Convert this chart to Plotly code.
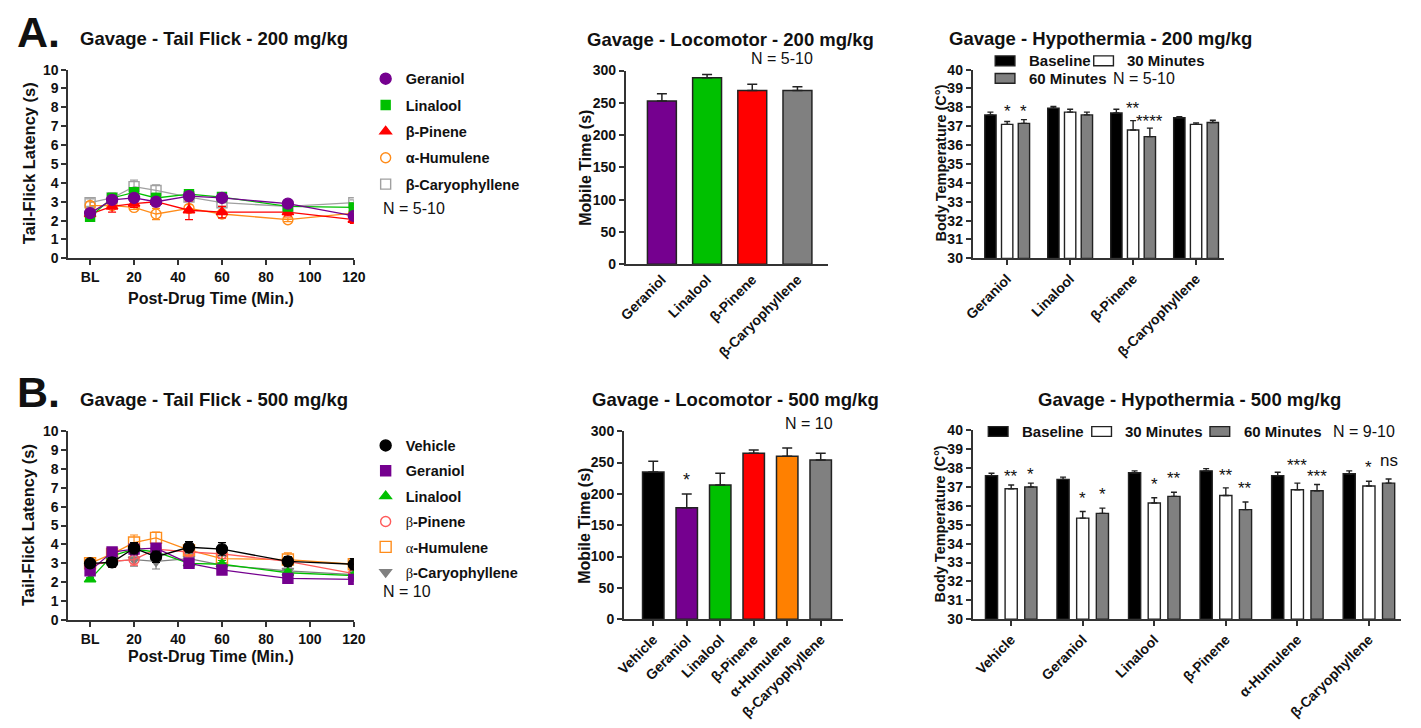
import plotly.graph_objects as go

W, H = 1421, 728
FONT = "Liberation Sans, Arial, sans-serif"
AX = "#333333"
INK = "#111111"


def px(x):
    return x / W


def py(y):
    return 1 - y / H


# ---------------- data ----------------
tf_times = [0, 10, 20, 30, 45, 60, 90, 120]
tf_tickvals = [0, 20, 40, 60, 80, 100, 120]
tf_ticktext = ["BL", "20", "40", "60", "80", "100", "120"]

# Tail flick, 200 mg/kg (mean, SEM)
tfA_geraniol = [2.4, 3.1, 3.2, 3.0, 3.3, 3.2, 2.9, 2.25]
tfA_geraniol_sem = [0.15, 0.15, 0.15, 0.15, 0.15, 0.15, 0.2, 0.15]
tfA_linalool = [2.2, 3.2, 3.5, 3.2, 3.4, 3.25, 2.75, 2.7]
tfA_linalool_sem = [0.15, 0.25, 0.2, 0.25, 0.25, 0.15, 0.2, 0.2]
tfA_pinene = [2.35, 2.75, 2.9, 3.0, 2.55, 2.45, 2.45, 2.05]
tfA_pinene_sem = [0.2, 0.3, 0.2, 0.2, 0.5, 0.3, 0.2, 0.2]
tfA_humulene = [2.8, 2.8, 2.7, 2.35, 2.65, 2.35, 2.05, 2.4]
tfA_humulene_sem = [0.2, 0.15, 0.1, 0.3, 0.2, 0.2, 0.1, 0.15]
tfA_caryophyllene = [2.95, 3.2, 3.8, 3.6, 3.25, 2.95, 2.75, 2.95]
tfA_caryophyllene_sem = [0.2, 0.2, 0.35, 0.3, 0.2, 0.2, 0.15, 0.15]

# Tail flick, 500 mg/kg (mean, SEM)
tfB_vehicle = [3.0, 3.05, 3.8, 3.35, 3.85, 3.75, 3.1, 2.95]
tfB_vehicle_sem = [0.2, 0.25, 0.3, 0.3, 0.3, 0.35, 0.25, 0.3]
tfB_geraniol = [2.6, 3.6, 3.75, 3.8, 3.0, 2.65, 2.2, 2.15]
tfB_geraniol_sem = [0.15, 0.15, 0.3, 0.2, 0.15, 0.15, 0.1, 0.1]
tfB_linalool = [2.15, 3.4, 3.75, 3.6, 3.0, 2.95, 2.5, 2.35]
tfB_linalool_sem = [0.1, 0.2, 0.2, 0.2, 0.15, 0.2, 0.15, 0.15]
tfB_pinene = [2.9, 3.1, 3.2, 3.75, 3.6, 3.5, 3.1, 2.45]
tfB_pinene_sem = [0.2, 0.3, 0.3, 0.25, 0.25, 0.25, 0.2, 0.2]
tfB_humulene = [3.0, 3.5, 4.1, 4.35, 3.7, 3.25, 3.2, 2.95]
tfB_humulene_sem = [0.2, 0.2, 0.4, 0.3, 0.25, 0.25, 0.35, 0.2]
tfB_caryophyllene = [2.9, 3.1, 3.2, 3.1, 3.25, 2.9, 2.6, 2.4]
tfB_caryophyllene_sem = [0.2, 0.3, 0.35, 0.4, 0.2, 0.25, 0.15, 0.15]

# Locomotor (mobile time, s)
locoA_names = ["Geraniol", "Linalool", "β-Pinene", "β-Caryophyllene"]
locoA_mean = [253, 289, 269, 269]
locoA_sem = [11, 5, 10, 6]
locoA_colors = ["#75008F", "#00C000", "#FF0000", "#808080"]

locoB_names = ["Vehicle", "Geraniol", "Linalool", "β-Pinene", "α-Humulene", "β-Caryophyllene"]
locoB_mean = [235, 178, 214, 265, 260, 254]
locoB_sem = [17, 22, 19, 5, 13, 11]
locoB_sig = ["", "*", "", "", "", ""]
locoB_colors = ["#000000", "#75008F", "#00C000", "#FF0000", "#FF8000", "#808080"]

# Hypothermia (body temperature, °C)
hypA_names = ["Geraniol", "Linalool", "β-Pinene", "β-Caryophyllene"]
hypA_base = [37.6, 37.95, 37.7, 37.45]
hypA_base_sem = [0.15, 0.1, 0.2, 0.05]
hypA_30 = [37.1, 37.75, 36.8, 37.1]
hypA_30_sem = [0.15, 0.15, 0.5, 0.08]
hypA_60 = [37.15, 37.6, 36.45, 37.2]
hypA_60_sem = [0.2, 0.15, 0.45, 0.12]
hypA_30_sig = ["*", "", "**", ""]
hypA_60_sig = ["*", "", "****", ""]

hypB_names = ["Vehicle", "Geraniol", "Linalool", "β-Pinene", "α-Humulene", "β-Caryophyllene"]
hypB_base = [37.6, 37.4, 37.75, 37.85, 37.6, 37.7]
hypB_base_sem = [0.12, 0.12, 0.1, 0.12, 0.18, 0.15]
hypB_30 = [36.9, 35.35, 36.15, 36.55, 36.85, 37.05]
hypB_30_sem = [0.2, 0.35, 0.28, 0.4, 0.35, 0.25]
hypB_60 = [37.0, 35.6, 36.5, 35.8, 36.8, 37.2]
hypB_60_sem = [0.2, 0.28, 0.22, 0.4, 0.33, 0.22]
hypB_30_sig = ["**", "*", "*", "**", "***", "*"]
hypB_60_sig = ["*", "*", "**", "**", "***", "ns"]

# vertical nudges (px) for the significance marks, so neighbours do not collide
hypA_30_lift = [-1, 0, 1, 0]
hypA_60_lift = [-3, 0, -5, 0]
hypB_30_lift = [-3, 2, 2, 1, 6, 2]
hypB_60_lift = [-3, 2, 2, 2, -4, 7]


# ---------------- helpers ----------------
def serif_greek(name):
    if name and name[0] in "αβ":
        return ("<span style='font-family:Liberation Serif;font-weight:normal'>"
                + name[0] + "</span>" + name[1:])
    return name


def axis(**kw):
    d = dict(showline=True, linecolor=AX, linewidth=1.6, ticks="outside",
             ticklen=5, tickwidth=1.6, tickcolor=AX, showgrid=False,
             zeroline=False, fixedrange=True,
             tickfont=dict(family=FONT, size=14, color=INK, weight="bold"))
    d.update(kw)
    return d


fig = go.Figure()
annotations = []
shapes = []


def text(x, y, s, size=14, bold=True, xanchor="left", angle=0, color=INK):
    annotations.append(dict(
        x=px(x), y=py(y), xref="paper", yref="paper", text=s, showarrow=False,
        xanchor=xanchor, yanchor="middle", textangle=angle,
        font=dict(family=FONT, size=size, color=color,
                  weight="bold" if bold else "normal")))


# ---------------- tail flick panels ----------------
def tail_flick(series, xa, ya, legend_name):
    for name, mean, sem, color, symbol, size in reversed(series):
        fig.add_trace(go.Scatter(
            x=tf_times, y=mean, mode="lines+markers", xaxis=xa, yaxis=ya,
            line=dict(color=color, width=1.3),
            marker=dict(color=color, symbol=symbol, size=size,
                        line=dict(color=color, width=1.4)),
            error_y=dict(type="data", array=sem, color=color, thickness=1.2, width=4),
            showlegend=False, hoverinfo="skip"))
    for name, mean, sem, color, symbol, size in series:
        fig.add_trace(go.Scatter(
            x=[None], y=[None], mode="markers", xaxis=xa, yaxis=ya, name=name,
            marker=dict(color=color, symbol=symbol, size=size,
                        line=dict(color=color, width=1.4)),
            legend=legend_name, legendgroup=name, showlegend=True))


tail_flick([
    ("Geraniol", tfA_geraniol, tfA_geraniol_sem, "#75008F", "circle", 11),
    ("Linalool", tfA_linalool, tfA_linalool_sem, "#00C000", "square", 9),
    ("β-Pinene", tfA_pinene, tfA_pinene_sem, "#FF0000", "triangle-up", 10),
    ("α-Humulene", tfA_humulene, tfA_humulene_sem, "#FF8C1A", "circle-open", 10),
    ("β-Caryophyllene", tfA_caryophyllene, tfA_caryophyllene_sem, "#A0A0A0", "square-open", 10),
], "x", "y", "legend")

tail_flick([
    ("Vehicle", tfB_vehicle, tfB_vehicle_sem, "#000000", "circle", 11),
    ("Geraniol", tfB_geraniol, tfB_geraniol_sem, "#75008F", "square", 10),
    ("Linalool", tfB_linalool, tfB_linalool_sem, "#00C000", "triangle-up", 10),
    (serif_greek("β-Pinene"), tfB_pinene, tfB_pinene_sem, "#FF5A5A", "circle-open", 10),
    (serif_greek("α-Humulene"), tfB_humulene, tfB_humulene_sem, "#FF8C1A", "square-open", 11),
    (serif_greek("β-Caryophyllene"), tfB_caryophyllene, tfB_caryophyllene_sem, "#808080", "triangle-down", 10),
], "x4", "y4", "legend2")


# ---------------- locomotor panels ----------------
def locomotor(names, mean, sem, colors, xa, ya):
    idx = list(range(len(names)))
    fig.add_trace(go.Bar(
        x=idx, y=mean, xaxis=xa, yaxis=ya, width=0.64,
        marker=dict(color=colors, line=dict(color="#222222", width=1.5)),
        error_y=dict(type="data", symmetric=False, array=sem,
                     arrayminus=[0] * len(sem), color="#222222", thickness=1.5, width=5),
        showlegend=False, hoverinfo="skip"))
    return idx, list(names)


locoA_idx, locoA_text = locomotor(locoA_names, locoA_mean, locoA_sem, locoA_colors, "x2", "y2")
locoB_idx, locoB_text = locomotor(locoB_names, locoB_mean, locoB_sem, locoB_colors, "x5", "y5")
for i, s in enumerate(locoB_sig):
    if s:
        annotations.append(dict(x=i, y=locoB_mean[i] + locoB_sem[i], xref="x5", yref="y5",
                                text=s, showarrow=False, yanchor="bottom", yshift=2,
                                font=dict(family=FONT, size=18, color=INK)))


# ---------------- hypothermia panels ----------------
def hypothermia(names, base, base_sem, m30, m30_sem, m60, m60_sem,
                sig30, sig60, lift30, lift60, xa, ya, step, width):
    idx = list(range(len(names)))
    groups = [
        (base, base_sem, "#000000", -step, None, None),
        (m30, m30_sem, "#FFFFFF", 0.0, sig30, lift30),
        (m60, m60_sem, "#808080", step, sig60, lift60),
    ]
    for mean, sem, color, off, sig, lift in groups:
        xs = [i + off for i in idx]
        fig.add_trace(go.Bar(
            x=xs, y=[v - 30 for v in mean], base=30, xaxis=xa, yaxis=ya, width=width,
            marker=dict(color=color, line=dict(color="#222222", width=1.4)),
            error_y=dict(type="data", symmetric=False, array=sem,
                         arrayminus=[0] * len(sem), color="#222222", thickness=1.4, width=3),
            showlegend=False, hoverinfo="skip"))
        if sig:
            for x, v, e, s, dy in zip(xs, mean, sem, sig, lift):
                if s:
                    annotations.append(dict(
                        x=x, y=v + e, xref=xa, yref=ya, text=s, showarrow=False,
                        yanchor="bottom", yshift=dy,
                        font=dict(family=FONT, size=17, color=INK)))
    return idx, list(names)


hypA_idx, hypA_text = hypothermia(hypA_names, hypA_base, hypA_base_sem, hypA_30, hypA_30_sem,
                                  hypA_60, hypA_60_sem, hypA_30_sig, hypA_60_sig,
                                  hypA_30_lift, hypA_60_lift, "x3", "y3", 0.266, 0.18)
hypB_idx, hypB_text = hypothermia(hypB_names, hypB_base, hypB_base_sem, hypB_30, hypB_30_sem,
                                  hypB_60, hypB_60_sem, hypB_30_sig, hypB_60_sig,
                                  hypB_30_lift, hypB_60_lift, "x6", "y6", 0.275, 0.17)


def legend_box(x0, y0, color, label, label_x):
    shapes.append(dict(type="rect", xref="paper", yref="paper",
                       x0=px(x0), x1=px(x0 + 20), y0=py(y0 + 5), y1=py(y0 - 5),
                       fillcolor=color, line=dict(color="#222222", width=1.4)))
    text(label_x, y0, label, size=15)


legend_box(1001, 54, "#000000", "Baseline", 1033)
legend_box(1101, 54, "#FFFFFF", "30 Minutes", 1133)
legend_box(1001, 72, "#808080", "60 Minutes", 1033)
text(1119, 72, "N = 5-10", size=16, bold=False)

legend_box(994, 433, "#000000", "Baseline", 1026)
legend_box(1099, 433, "#FFFFFF", "30 Minutes", 1131)
legend_box(1219, 433, "#808080", "60 Minutes", 1251)
text(1342, 433, "N = 9-10", size=16, bold=False)

# ---------------- titles and labels ----------------
text(6, 25, "A.", size=43)
text(6, 393, "B.", size=43)
text(70, 31, "Gavage - Tail Flick - 200 mg/kg", size=18.5)
text(70, 400, "Gavage - Tail Flick - 500 mg/kg", size=18.5)
text(732, 32, "Gavage - Locomotor - 200 mg/kg", size=18.5, xanchor="center")
text(737, 400, "Gavage - Locomotor - 500 mg/kg", size=18.5, xanchor="center")
text(1108, 31, "Gavage - Hypothermia - 200 mg/kg", size=18.5, xanchor="center")
text(1198, 400, "Gavage - Hypothermia - 500 mg/kg", size=18.5, xanchor="center")

text(785, 52, "N = 5-10", size=16, bold=False, xanchor="center")
text(812, 425, "N = 10", size=16, bold=False, xanchor="center")
text(378, 205, "N = 5-10", size=16, bold=False)
text(378, 597, "N = 10", size=16, bold=False)

text(20, 159, "Tail-Flick Latency (s)", size=16.5, xanchor="center", angle=-90)
text(20, 529, "Tail-Flick Latency (s)", size=16.5, xanchor="center", angle=-90)
text(205, 297, "Post-Drug Time (Min.)", size=16, xanchor="center")
text(205, 663, "Post-Drug Time (Min.)", size=16, xanchor="center")
text(585, 163, "Mobile Time (s)", size=16, xanchor="center", angle=-90)
text(584, 529, "Mobile Time (s)", size=16, xanchor="center", angle=-90)
text(945, 159, "Body Temperature (C°)", size=14.5, xanchor="center", angle=-90)
text(945, 528, "Body Temperature (C°)", size=14.5, xanchor="center", angle=-90)

legend_common = dict(xanchor="left", yanchor="top", bgcolor="rgba(0,0,0,0)",
                     font=dict(family=FONT, size=14.5, color=INK, weight="bold"),
                     itemclick=False, itemdoubleclick=False)

fig.update_layout(
    width=W, height=H, margin=dict(l=0, r=0, t=0, b=0),
    paper_bgcolor="white", plot_bgcolor="white",
    font=dict(family=FONT, color=INK),
    annotations=annotations, shapes=shapes,
    legend=dict(x=px(362), y=py(56), tracegroupgap=4.5, **legend_common),
    legend2=dict(x=px(362), y=py(431), tracegroupgap=3.5, **legend_common),
    xaxis=axis(domain=[px(60), px(350)], range=[-10, 120], anchor="y",
               tickvals=tf_tickvals, ticktext=tf_ticktext),
    yaxis=axis(domain=[py(256), py(63)], range=[0, 10], dtick=1, anchor="x"),
    xaxis2=axis(domain=[px(626), px(831)], range=[-0.8, 3.67], anchor="y2",
                tickvals=locoA_idx, ticktext=locoA_text, tickangle=-45, ticks=""),
    yaxis2=axis(domain=[py(262), py(64)], range=[0, 300], dtick=50, anchor="x2"),
    xaxis3=axis(domain=[px(978), px(1233)], range=[-0.55, 3.44], anchor="y3",
                tickvals=hypA_idx, ticktext=hypA_text, tickangle=-45),
    yaxis3=axis(domain=[py(256), py(63)], range=[30, 40], dtick=1, anchor="x3"),
    xaxis4=axis(domain=[px(60), px(350)], range=[-10, 120], anchor="y4",
                tickvals=tf_tickvals, ticktext=tf_ticktext),
    yaxis4=axis(domain=[py(625.7), py(432.7)], range=[0, 10], dtick=1, anchor="x4"),
    xaxis5=axis(domain=[px(624), px(847)], range=[-0.88, 5.68], anchor="y5",
                tickvals=locoB_idx, ticktext=locoB_text, tickangle=-45),
    yaxis5=axis(domain=[py(625), py(432.7)], range=[0, 300], dtick=50, anchor="x5"),
    xaxis6=axis(domain=[px(978), px(1413)], range=[-0.54, 5.45], anchor="y6",
                tickvals=hypB_idx, ticktext=hypB_text, tickangle=-45),
    yaxis6=axis(domain=[py(625), py(431.7)], range=[30, 40], dtick=1, anchor="x6"),
)

fig.write_html("out.html")
